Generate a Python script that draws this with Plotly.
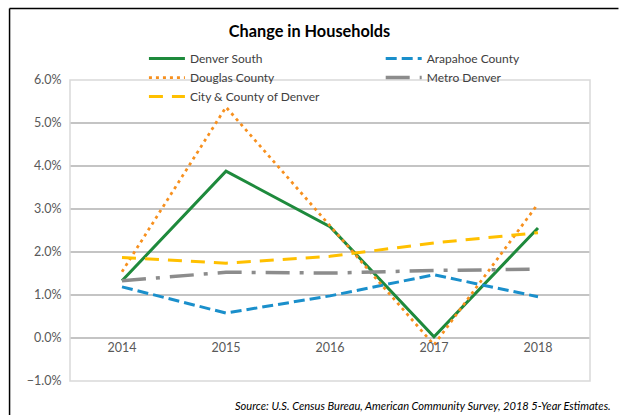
import plotly.graph_objects as go

years = ["2014", "2015", "2016", "2017", "2018"]
denver_south = [1.33, 3.88, 2.59, 0.03, 2.56]
arapahoe = [1.19, 0.58, 0.98, 1.47, 0.96]
douglas = [1.54, 5.37, 2.61, -0.16, 3.12]
metro = [1.33, 1.53, 1.51, 1.57, 1.60]
city_county = [1.87, 1.74, 1.90, 2.21, 2.45]

# name, values, color, dash, width, legend column
series = [
    ("Denver South", denver_south, "#1E8A3C", "solid", 3, "legend"),
    ("Arapahoe County", arapahoe, "#1A8FCB", "11px,5px", 3, "legend2"),
    ("Douglas County", douglas, "#F7901E", "3px,4px", 2.75, "legend"),
    ("Metro Denver", metro, "#8C8C8C", "24px,10px,4px,10px", 3.5, "legend2"),
    ("City & County of Denver", city_county, "#FFC000", "14px,9px", 3, "legend"),
]

FONT = "Lato"
OFF = 0  # page body margin (removed by post_script)
W, H = 619, 415
# plot area in reference-window pixels
PL, PR, PT, PB = 70, 590.5, 80, 381
ML, MR, MT, MB = PL - OFF, W - (PR - OFF), PT - OFF, H - (PB - OFF)
pw = W - ML - MR
ph = H - MT - MB


def px_x(p):
    return (p - OFF - ML) / pw


def px_y(p):
    return (H - MB - (p - OFF)) / ph


fig = go.Figure()
for name, vals, color, dash, width, leg in series:
    fig.add_trace(go.Scatter(
        x=years, y=[v / 100 for v in vals], name=name, mode="lines",
        line=dict(color=color, dash=dash, width=width), legend=leg,
    ))

legend_common = dict(orientation="v", xanchor="left", yanchor="top",
                     itemwidth=36, tracegroupgap=0, bgcolor="rgba(0,0,0,0)",
                     font=dict(family=FONT, size=12, color="#404040"),
                     traceorder="normal")

fig.update_layout(
    width=W, height=H,
    margin=dict(l=ML, r=MR, t=MT, b=MB),
    paper_bgcolor="white", plot_bgcolor="white",
    font=dict(family=FONT, color="#404040"),
    title=dict(text="<b>Change in Households</b>", x=0.5, xanchor="center",
               y=1 - 31 / H, yanchor="middle",
               font=dict(family=FONT, size=16.3, color="#000000")),
    showlegend=True,
    legend=dict(x=px_x(144), y=px_y(44), **legend_common),
    legend2=dict(x=px_x(381), y=px_y(44), **legend_common),
    xaxis=dict(type="category", range=[-0.5, 4.5], showgrid=False, zeroline=False,
               showline=False, anchor="free", position=px_y(338), ticks="",
               tickfont=dict(family=FONT, size=12.5, color="#595959")),
    yaxis=dict(range=[-0.01, 0.06], dtick=0.01, tickformat=".1%", showgrid=True,
               gridcolor="#C4C4C4", gridwidth=1.5, zeroline=False, showline=False,
               ticks="outside", ticklen=5, tickcolor="rgba(0,0,0,0)",
               tickfont=dict(family=FONT, size=12.5, color="#595959")),
    shapes=[
        dict(type="rect", xref="paper", yref="paper", x0=0, x1=1, y0=0, y1=1,
             line=dict(color="#D9D9D9", width=1.5), layer="above"),
        dict(type="line", xref="paper", yref="paper", x0=px_x(9.5), x1=px_x(9.5),
             y0=px_y(8.5), y1=px_y(420), line=dict(color="#000000", width=1.5)),
        dict(type="line", xref="paper", yref="paper", x0=px_x(9.5), x1=px_x(619),
             y0=px_y(8.5), y1=px_y(8.5), line=dict(color="#000000", width=1.5)),
    ],
    annotations=[
        dict(text="<i>Source: U.S. Census Bureau, American Community Survey, 2018 5-Year Estimates.</i>",
             xref="paper", yref="paper", x=px_x(614), y=px_y(405), xanchor="right",
             yanchor="middle", showarrow=False,
             font=dict(family=FONT, size=11.1, color="#000000")),
    ],
)

fig.write_html("out.html", config={"displayModeBar": False},
               post_script="document.body.style.margin='0';document.body.style.overflow='hidden';")
